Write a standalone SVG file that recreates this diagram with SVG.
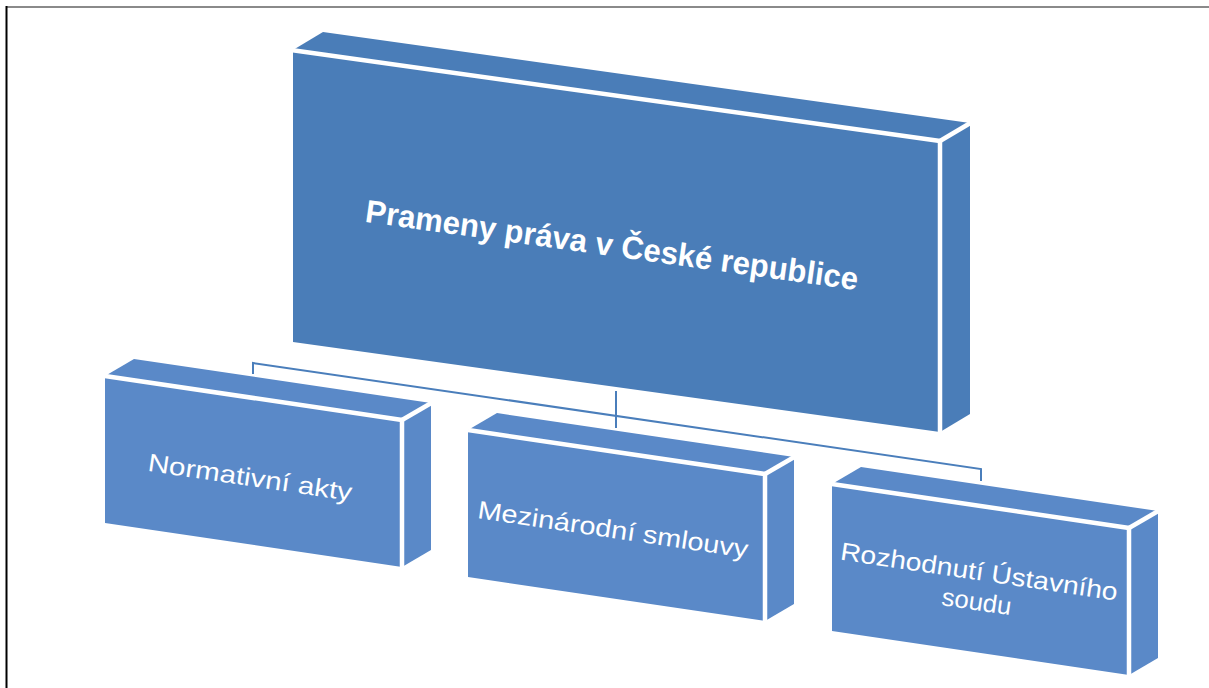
<svg xmlns="http://www.w3.org/2000/svg" width="1209" height="688" viewBox="0 0 1209 688">
<style>
.main{fill:#4a7db8}
.child{fill:#5a89c8}
.edge{fill:none;stroke:#ffffff;stroke-width:4.5;stroke-linejoin:miter}
.conn{fill:none;stroke:#4a7ebb;stroke-width:2}
.t{font-family:"Liberation Sans",Arial,sans-serif;fill:#ffffff;text-anchor:middle}
.tm{font-size:32px;font-weight:bold}
.tc{font-size:25px}
</style>
<defs>
<g id="childShape">
<polygon class="child" points="0,0 29,-17 326,27 326,174 297,191 0,147"/>
<polyline class="edge" points="0,0 297,44 297,191"/>
<line class="edge" x1="297" y1="44" x2="328" y2="26"/>
</g>
</defs>
<g id="frame">
<line x1="6" y1="7" x2="1209" y2="7" stroke="#8a8a8a" stroke-width="2"/>
<line x1="6.5" y1="6" x2="6.5" y2="688" stroke="#000000" stroke-width="2"/>
</g>
<g id="node-main">
<polygon class="main" points="293,50 323,32 970,123 970,414 940,432 293,342"/>
<polyline class="edge" points="291,50 940,141 940,432"/>
<line class="edge" x1="940" y1="141" x2="972" y2="122"/>
<g transform="translate(612,245) rotate(7.9)">
<text class="t tm" x="0" y="11" textLength="497" lengthAdjust="spacingAndGlyphs">Prameny práva v České republice</text>
</g>
</g>
<g id="connectors">
<polyline class="conn" points="253,374 253,363 981,469 981,481"/>
<line class="conn" x1="616" y1="391" x2="616" y2="428"/>
</g>
<g id="node-normativni">
<use href="#childShape" transform="translate(105,376)"/>
<g transform="translate(250,478) rotate(8.4)">
<text class="t tc" x="0" y="8" textLength="206" lengthAdjust="spacingAndGlyphs">Normativní akty</text>
</g>
</g>
<g id="node-mezinarodni">
<use href="#childShape" transform="translate(468,430)"/>
<g transform="translate(613,530) rotate(8.4)">
<text class="t tc" x="0" y="8" textLength="273" lengthAdjust="spacingAndGlyphs">Mezinárodní smlouvy</text>
</g>
</g>
<g id="node-rozhodnuti">
<use href="#childShape" transform="translate(832,484)"/>
<g transform="translate(977,586) rotate(8.4)">
<text class="t tc" x="0" y="-6" textLength="280" lengthAdjust="spacingAndGlyphs">Rozhodnutí Ústavního</text>
<text class="t tc" x="2" y="24" textLength="70" lengthAdjust="spacingAndGlyphs">soudu</text>
</g>
</g>
</svg>
